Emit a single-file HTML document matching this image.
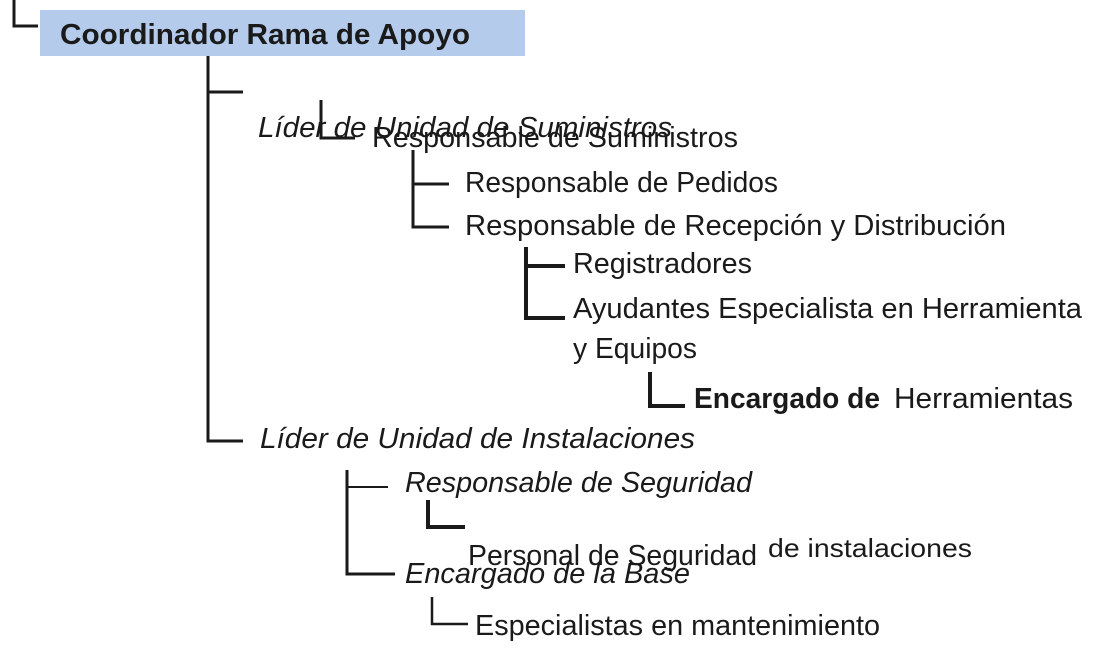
<!DOCTYPE html>
<html><head><meta charset="utf-8"><style>
html,body{margin:0;padding:0;background:#fff;width:1102px;height:649px;overflow:hidden}
svg{display:block}
text{font-family:"Liberation Sans",sans-serif;font-size:29px;fill:#1a1a1a}
.i{font-style:italic}
</style></head><body>
<svg width="1102" height="649" viewBox="0 0 1102 649">
<g stroke="#1a1a1a" fill="none" stroke-width="3">
<path d="M14 0V26H38"/>
<path d="M208 56V441H243"/>
<path d="M208 92H243"/>
<path d="M321 100V138H355"/>
<path d="M413 150V227H449M413 184H449"/>
<path d="M526 247V318H565M526 266H565" stroke-width="4"/>
<path d="M650 372V406H685" stroke-width="4"/>
<path d="M347 470V574H395"/>
<path d="M347 487H388" stroke-width="2"/>
<path d="M428 500V527H465" stroke-width="4"/>
<path d="M432 597V624H468" stroke-width="2.5"/>
</g>
<rect x="40" y="10" width="485" height="46" fill="#b4cbeb"/>
<text x="60" y="44" textLength="410" lengthAdjust="spacingAndGlyphs" font-weight="bold">Coordinador Rama de Apoyo</text>
<text class="i" x="258" y="137" textLength="414" lengthAdjust="spacingAndGlyphs">Líder de Unidad de Suministros</text>
<text x="372" y="147" textLength="366" lengthAdjust="spacingAndGlyphs">Responsable de Suministros</text>
<text x="465" y="192" textLength="313" lengthAdjust="spacingAndGlyphs">Responsable de Pedidos</text>
<text x="465" y="235" textLength="541" lengthAdjust="spacingAndGlyphs">Responsable de Recepción y Distribución</text>
<text x="573" y="273" textLength="179" lengthAdjust="spacingAndGlyphs">Registradores</text>
<text x="573" y="318" textLength="509" lengthAdjust="spacingAndGlyphs">Ayudantes Especialista en Herramienta</text>
<text x="573" y="358" textLength="124" lengthAdjust="spacingAndGlyphs">y Equipos</text>
<text x="694" y="408" textLength="186" lengthAdjust="spacingAndGlyphs" font-weight="bold">Encargado de</text>
<text x="894" y="408" textLength="179" lengthAdjust="spacingAndGlyphs">Herramientas</text>
<text class="i" x="260" y="448" textLength="435" lengthAdjust="spacingAndGlyphs">Líder de Unidad de Instalaciones</text>
<text class="i" x="405" y="492" textLength="347" lengthAdjust="spacingAndGlyphs">Responsable de Seguridad</text>
<text x="468" y="565" textLength="289" lengthAdjust="spacingAndGlyphs">Personal de Seguridad</text>
<text x="768" y="557" textLength="204" lengthAdjust="spacingAndGlyphs" style="font-size:26px">de instalaciones</text>
<text class="i" x="405" y="583" textLength="285" lengthAdjust="spacingAndGlyphs">Encargado de la Base</text>
<text x="475" y="635" textLength="405" lengthAdjust="spacingAndGlyphs">Especialistas en mantenimiento</text>
</svg>
</body></html>
